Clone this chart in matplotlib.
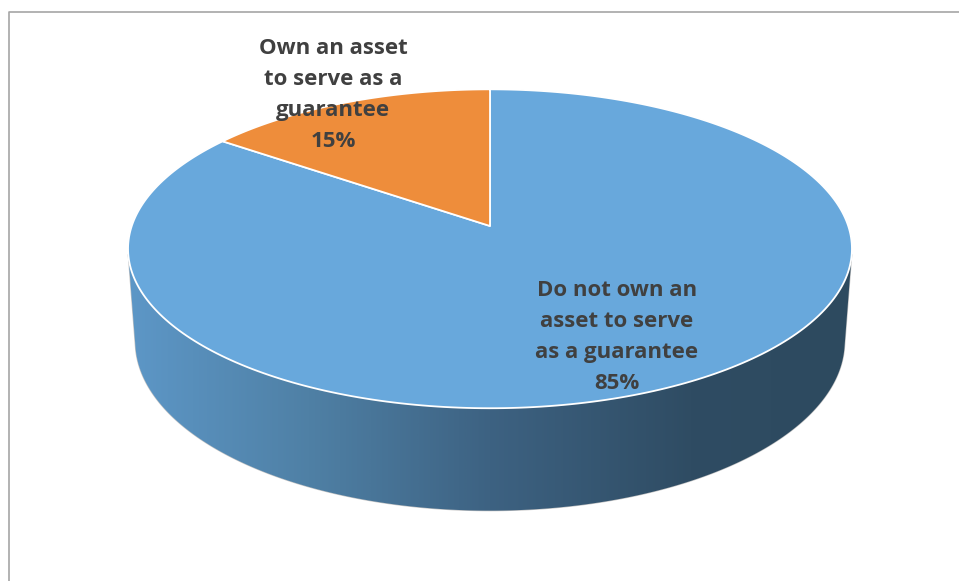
import numpy as np
import matplotlib.pyplot as plt
from matplotlib.patches import Polygon
from matplotlib.colors import LinearSegmentedColormap

labels = ["Do not own an\nasset to serve\nas a guarantee", "Own an asset\nto serve as a\nguarantee"]
values = [85, 15]
top_colors = ["#68A8DC", "#EE8D3B"]
side_colors = [[(0.0, "#5D97C7"), (0.25, "#4F80A5"), (0.5, "#3D6282"), (0.78, "#2F4C63"), (1.0, "#2D4A5F")],
               [(0.0, "#F08A35"), (0.5, "#B06424"), (1.0, "#8A4A1A")]]

# camera for the 3D pie (unit radius disk, top face at z=0)
elev = np.radians(25.85)
s, c = np.sin(elev), np.cos(elev)
D = 6.3
f = 2257
h = 0.29
cx, cy = 490, 226


def proj(x, y, z):
    # world: x to the right, y away from viewer, z up
    yc = (y + D * c) * s + (z - D * s) * c
    zc = (y + D * c) * c - (z - D * s) * s
    return cx + f * x / zc, cy - f * yc / zc


def rim(t, z):
    # t is the clockwise angle from 12 o'clock
    return proj(np.sin(t), np.cos(t), z)


fig = plt.figure(figsize=(9.59, 5.81), dpi=100)
ax = fig.add_axes([0, 0, 1, 1])
ax.set_xlim(0, 959)
ax.set_ylim(581, 0)
ax.axis("off")

# chart frame
ax.plot([9, 9, 959], [581, 12, 12], color="#A6A6A6", lw=1.2, solid_capstyle="butt")

bounds = np.concatenate([[0], np.cumsum(values)]) / sum(values) * 2 * np.pi
t_vis = np.arccos(-1 / (D * c))  # side wall faces the camera beyond this angle

# side wall, shaded with a left-to-right gradient
for i in range(len(values)):
    a0, a1 = max(bounds[i], t_vis), min(bounds[i + 1], 2 * np.pi - t_vis)
    if a1 <= a0:
        continue
    ts = np.linspace(a0, a1, 400)
    xt, yt = rim(ts, 0)
    xb, yb = rim(ts, -h)
    pts = list(zip(xt, yt)) + list(zip(xb[::-1], yb[::-1]))
    wall = Polygon(pts, closed=True, facecolor="none", edgecolor="#C4C4C4", lw=0.9)
    ax.add_patch(wall)
    cmap = LinearSegmentedColormap.from_list("wall", side_colors[i])
    x0, x1 = min(xt.min(), xb.min()), max(xt.max(), xb.max())
    y0, y1 = min(yt.min(), yb.min()), max(yt.max(), yb.max())
    grad = np.linspace(0, 1, 512)[None, :]
    im = ax.imshow(grad, cmap=cmap, aspect="auto", extent=(x0, x1, y1, y0),
                   interpolation="bilinear", zorder=1)
    im.set_clip_path(wall)

# top face
for i in range(len(values)):
    ts = np.linspace(bounds[i], bounds[i + 1], 300)
    xs, ys = rim(ts, 0)
    pts = [proj(0, 0, 0)] + list(zip(xs, ys))
    ax.add_patch(Polygon(pts, closed=True, facecolor=top_colors[i],
                         edgecolor="white", lw=1.3, joinstyle="round", zorder=2))

# data labels
font = dict(family="Open Sans", weight="bold", color="#404040", ha="center", va="center",
            fontsize=16, linespacing=1.62, zorder=3)
ax.text(617, 337, f"{labels[0]}\n{values[0]}%", **font)
ax.text(333, 95, f"{labels[1]}\n{values[1]}%", **font)

fig.savefig("out.png", dpi=100)
